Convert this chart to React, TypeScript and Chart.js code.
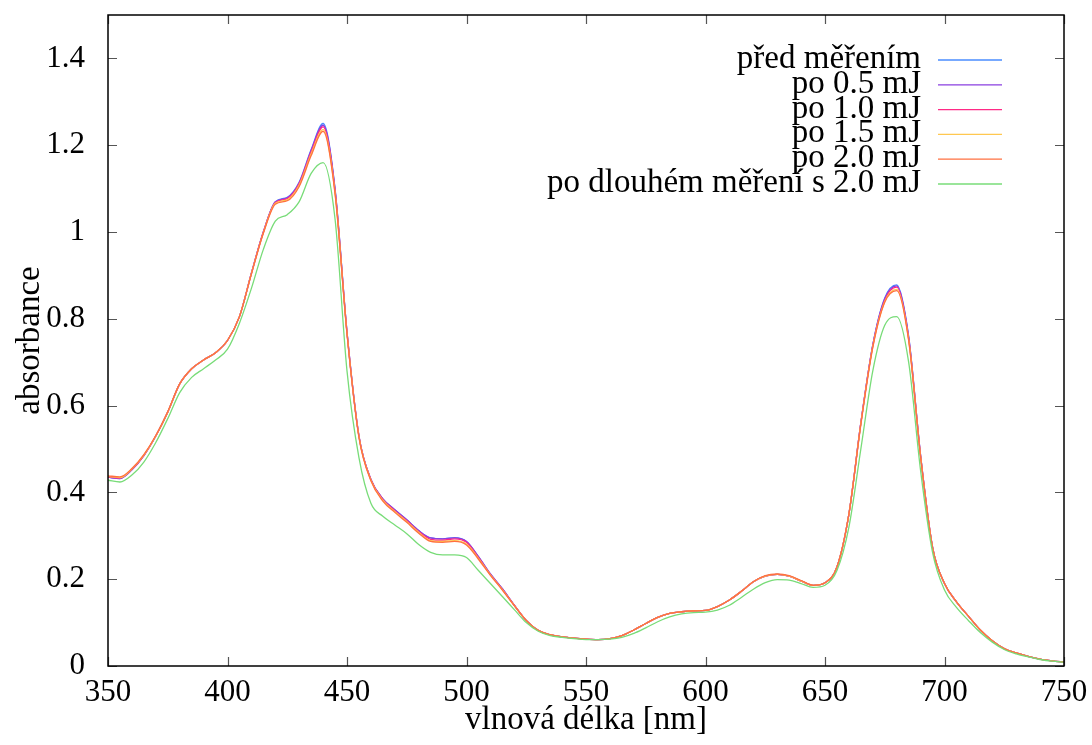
import React, { useEffect, useRef } from 'react';
import { Chart, registerables } from 'chart.js';

Chart.register(...registerables);

const wavelengths = [
  350, 355, 360, 365, 370, 375, 380, 385, 390, 395,
  400, 405, 410, 415, 420, 425, 430, 435, 440, 445,
  450, 455, 460, 465, 470, 475, 480, 485, 490, 495,
  500, 505, 510, 515, 520, 525, 530, 535, 540, 545,
  550, 555, 560, 565, 570, 575, 580, 585, 590, 595,
  600, 605, 610, 615, 620, 625, 630, 635, 640, 645,
  650, 655, 660, 665, 670, 675, 680, 685, 690, 695,
  700, 705, 710, 715, 720, 725, 730, 735, 740, 745,
  750,
];

const before = [
  0.435, 0.432, 0.452, 0.485, 0.53, 0.585, 0.65, 0.685, 0.705, 0.722,
  0.75, 0.805, 0.905, 1.0, 1.07, 1.08, 1.115, 1.19, 1.25, 1.1,
  0.77, 0.53, 0.43, 0.385, 0.36, 0.337, 0.312, 0.295, 0.293, 0.296,
  0.287, 0.252, 0.212, 0.178, 0.14, 0.105, 0.082, 0.072, 0.067, 0.064,
  0.062, 0.061, 0.063, 0.07, 0.083, 0.098, 0.112, 0.121, 0.125, 0.127,
  0.128, 0.137, 0.152, 0.172, 0.194, 0.207, 0.211, 0.207, 0.196, 0.186,
  0.192, 0.228, 0.35, 0.56, 0.74, 0.848, 0.878, 0.76, 0.485, 0.274,
  0.19, 0.148, 0.115, 0.083, 0.058, 0.04, 0.03, 0.022, 0.016, 0.012,
  0.009,
];

const after05 = [
  0.435, 0.432, 0.452, 0.485, 0.53, 0.585, 0.65, 0.685, 0.705, 0.722,
  0.75, 0.805, 0.905, 1.0, 1.069, 1.079, 1.113, 1.188, 1.246, 1.098,
  0.77, 0.53, 0.43, 0.385, 0.36, 0.337, 0.312, 0.295, 0.293, 0.295,
  0.287, 0.252, 0.212, 0.178, 0.14, 0.105, 0.082, 0.072, 0.067, 0.064,
  0.062, 0.061, 0.063, 0.07, 0.083, 0.098, 0.112, 0.121, 0.125, 0.127,
  0.128, 0.137, 0.152, 0.172, 0.194, 0.207, 0.211, 0.207, 0.196, 0.186,
  0.192, 0.228, 0.35, 0.56, 0.74, 0.846, 0.876, 0.758, 0.485, 0.274,
  0.19, 0.148, 0.115, 0.083, 0.058, 0.04, 0.03, 0.022, 0.016, 0.012,
  0.009,
];

const after10 = [
  0.436, 0.433, 0.453, 0.485, 0.53, 0.585, 0.65, 0.685, 0.705, 0.722,
  0.75, 0.805, 0.905, 1.0, 1.068, 1.077, 1.112, 1.185, 1.242, 1.095,
  0.768, 0.53, 0.43, 0.384, 0.358, 0.335, 0.31, 0.292, 0.29, 0.293,
  0.285, 0.25, 0.211, 0.177, 0.14, 0.105, 0.082, 0.072, 0.067, 0.064,
  0.062, 0.061, 0.063, 0.07, 0.083, 0.098, 0.112, 0.121, 0.125, 0.127,
  0.128, 0.137, 0.152, 0.172, 0.194, 0.207, 0.211, 0.207, 0.196, 0.186,
  0.192, 0.228, 0.35, 0.56, 0.738, 0.843, 0.873, 0.755, 0.484, 0.274,
  0.19, 0.148, 0.115, 0.083, 0.058, 0.04, 0.03, 0.022, 0.016, 0.012,
  0.009,
];

const after15 = [
  0.437, 0.434, 0.454, 0.486, 0.53, 0.585, 0.65, 0.685, 0.705, 0.722,
  0.75, 0.805, 0.904, 0.998, 1.066, 1.074, 1.108, 1.18, 1.236, 1.09,
  0.766, 0.528, 0.428, 0.382, 0.356, 0.333, 0.308, 0.289, 0.287, 0.289,
  0.281, 0.248, 0.21, 0.176, 0.139, 0.105, 0.082, 0.072, 0.067, 0.064,
  0.062, 0.061, 0.063, 0.07, 0.083, 0.098, 0.112, 0.121, 0.125, 0.127,
  0.128, 0.137, 0.152, 0.172, 0.194, 0.207, 0.211, 0.207, 0.196, 0.186,
  0.192, 0.228, 0.35, 0.558, 0.736, 0.84, 0.868, 0.752, 0.482, 0.273,
  0.19, 0.148, 0.115, 0.083, 0.058, 0.04, 0.03, 0.022, 0.016, 0.012,
  0.009,
];

const after20 = [
  0.438, 0.436, 0.455, 0.487, 0.531, 0.586, 0.65, 0.685, 0.705, 0.722,
  0.75, 0.805, 0.903, 0.997, 1.064, 1.072, 1.105, 1.176, 1.232, 1.088,
  0.765, 0.527, 0.427, 0.38, 0.354, 0.331, 0.306, 0.287, 0.285, 0.287,
  0.279, 0.246, 0.209, 0.175, 0.139, 0.105, 0.082, 0.072, 0.067, 0.064,
  0.062, 0.061, 0.063, 0.07, 0.083, 0.098, 0.112, 0.121, 0.125, 0.127,
  0.128, 0.137, 0.152, 0.172, 0.194, 0.208, 0.212, 0.208, 0.197, 0.186,
  0.192, 0.228, 0.35, 0.556, 0.734, 0.838, 0.865, 0.75, 0.481, 0.273,
  0.19, 0.148, 0.115, 0.083, 0.058, 0.04, 0.03, 0.022, 0.016, 0.012,
  0.009,
];

const afterLong = [
  0.428, 0.424, 0.44, 0.47, 0.515, 0.57, 0.63, 0.665, 0.685, 0.705,
  0.73, 0.79, 0.87, 0.96, 1.025, 1.04, 1.07, 1.135, 1.16, 1.03,
  0.68, 0.48, 0.375, 0.345, 0.325, 0.305, 0.28, 0.262, 0.256, 0.256,
  0.25, 0.22, 0.19, 0.16, 0.13, 0.1, 0.08, 0.07, 0.066, 0.063,
  0.061, 0.061, 0.062, 0.066, 0.075, 0.088, 0.102, 0.113, 0.12, 0.123,
  0.124, 0.129, 0.14, 0.158, 0.177, 0.192, 0.199, 0.198, 0.19, 0.181,
  0.186, 0.22, 0.32, 0.5, 0.68, 0.785, 0.805, 0.7, 0.45, 0.262,
  0.175, 0.135, 0.105, 0.077, 0.055, 0.038, 0.028, 0.021, 0.015, 0.011,
  0.009,
];

const seriesNames = [
  'před měřením',
  'po 0.5 mJ',
  'po 1.0 mJ',
  'po 1.5 mJ',
  'po 2.0 mJ',
  'po dlouhém měření s 2.0 mJ',
];
const seriesColors = ['#4a8cff', '#8a3fe0', '#ff2a86', '#ffc850', '#ff7040', '#78dc78'];
const seriesValues = [before, after05, after10, after15, after20, afterLong];

const xTicks = [350, 400, 450, 500, 550, 600, 650, 700, 750];
const yTicks = [0, 0.2, 0.4, 0.6, 0.8, 1, 1.2, 1.4];
const yTickLabels = ['0', '0.2', '0.4', '0.6', '0.8', '1', '1.2', '1.4'];
const xTitle = 'vlnová délka [nm]';
const yTitle = 'absorbance';

const FONT = '"Liberation Serif", "Times New Roman", serif';

const framePlugin = {
  id: 'gnuplotFrame',
  afterDraw(chart: any) {
    const ctx = chart.ctx;
    const { left, right, top, bottom } = chart.chartArea;
    const xs = chart.scales.x;
    const ys = chart.scales.y;
    ctx.save();
    // ticks
    ctx.strokeStyle = '#555';
    ctx.lineWidth = 1.2;
    const tl = 9;
    ctx.beginPath();
    xTicks.forEach((v) => {
      const px = Math.round(xs.getPixelForValue(v)) + 0.5;
      ctx.moveTo(px, bottom);
      ctx.lineTo(px, bottom - tl);
      ctx.moveTo(px, top);
      ctx.lineTo(px, top + tl);
    });
    yTicks.forEach((v) => {
      const py = Math.round(ys.getPixelForValue(v)) + 0.5;
      ctx.moveTo(left, py);
      ctx.lineTo(left + tl, py);
      ctx.moveTo(right, py);
      ctx.lineTo(right - tl, py);
    });
    ctx.stroke();
    // frame
    ctx.strokeStyle = '#000';
    ctx.lineWidth = 1.5;
    ctx.strokeRect(left, top, right - left, bottom - top);

    // legend
    ctx.font = `33px ${FONT}`;
    ctx.fillStyle = '#000';
    ctx.textAlign = 'right';
    ctx.textBaseline = 'alphabetic';
    seriesNames.forEach((name, i) => {
      const rowY = 60 + i * 24.8;
      ctx.fillText(name, 921, rowY + 8);
      ctx.strokeStyle = seriesColors[i];
      ctx.lineWidth = 1.3;
      ctx.beginPath();
      ctx.moveTo(938, rowY);
      ctx.lineTo(1002, rowY);
      ctx.stroke();
    });

    // axis titles
    ctx.fillStyle = '#000';
    ctx.font = `33px ${FONT}`;
    ctx.textAlign = 'center';
    ctx.textBaseline = 'middle';
    ctx.fillText(xTitle, (left + right) / 2, 720);
    ctx.save();
    ctx.translate(30, (top + bottom) / 2);
    ctx.rotate(-Math.PI / 2);
    ctx.fillText(yTitle, 0, 0);
    ctx.restore();
    ctx.restore();
  },
};

export default function App() {
  const canvasRef = useRef<HTMLCanvasElement | null>(null);

  useEffect(() => {
    if (!canvasRef.current) return;
    const datasets = seriesNames.map((name, i) => ({
      label: name,
      data: wavelengths.map((w, k) => ({ x: w, y: seriesValues[i][k] })),
      borderColor: seriesColors[i],
      backgroundColor: seriesColors[i],
      borderWidth: 1.3,
      pointRadius: 0,
      cubicInterpolationMode: 'monotone' as const,
      fill: false,
      order: seriesNames.length - i,
    }));
    const chart = new Chart(canvasRef.current, {
      type: 'line',
      data: { datasets },
      options: {
        animation: false,
        responsive: false,
        devicePixelRatio: 1,
        layout: { padding: { left: 0, right: 28, top: 15, bottom: 0 } },
        plugins: {
          legend: { display: false },
          tooltip: { enabled: false },
        },
        scales: {
          x: {
            type: 'linear',
            min: 350,
            max: 750,
            grid: { display: false },
            border: { display: false },
            afterBuildTicks: (s: any) => {
              s.ticks = xTicks.map((v) => ({ value: v }));
            },
            afterFit: (s: any) => {
              s.height = 79;
              s.paddingLeft = 0;
              s.paddingRight = 0;
            },
            ticks: {
              color: '#000',
              font: { family: FONT, size: 31 },
              padding: 0,
              maxRotation: 0,
              autoSkip: false,
              callback: (v: any) => String(v),
            },
          },
          y: {
            type: 'linear',
            min: 0,
            max: 1.5,
            grid: { display: false },
            border: { display: false },
            afterBuildTicks: (s: any) => {
              s.ticks = yTicks.map((v) => ({ value: v }));
            },
            afterFit: (s: any) => {
              s.width = 108;
              s.paddingTop = 0;
              s.paddingBottom = 0;
            },
            ticks: {
              color: '#000',
              font: { family: FONT, size: 31 },
              padding: 15,
              autoSkip: false,
              callback: (v: any) => {
                const idx = yTicks.findIndex((t) => Math.abs(t - v) < 1e-9);
                return idx >= 0 ? yTickLabels[idx] : '';
              },
            },
          },
        },
      },
      plugins: [framePlugin],
    });
    return () => chart.destroy();
  }, []);

  return (
    <div style={{ position: 'absolute', left: 0, top: 0, width: 1092, height: 745, background: '#fff' }}>
      <canvas ref={canvasRef} width={1092} height={745} />
    </div>
  );
}
